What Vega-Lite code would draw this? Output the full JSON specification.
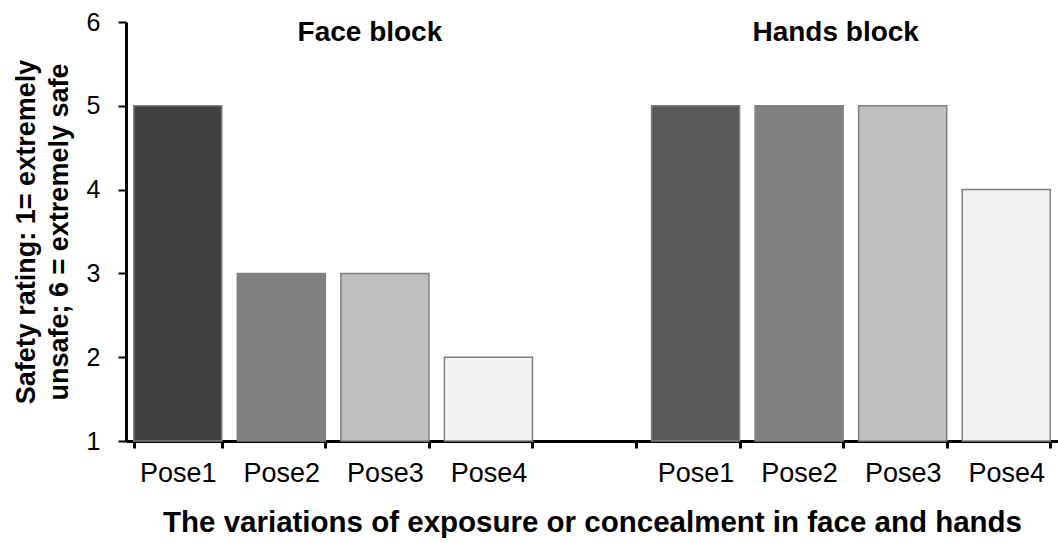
{
  "$schema": "https://vega.github.io/schema/vega-lite/v6.json",
  "width": 932,
  "height": 419,
  "autosize": {"type": "none"},
  "padding": {"left": 126, "top": 22, "right": 0, "bottom": 102},
  "config": {
    "font": "Liberation Sans",
    "view": {"stroke": null},
    "axis": {"domainColor": "#000", "tickColor": "#000", "labelColor": "#000", "titleColor": "#000", "grid": false}
  },
  "datasets": {
    "bars": [
      {"block": "Face", "pose": "Pose1", "slot": "F-Pose1", "rating": 5},
      {"block": "Face", "pose": "Pose2", "slot": "F-Pose2", "rating": 3},
      {"block": "Face", "pose": "Pose3", "slot": "F-Pose3", "rating": 3},
      {"block": "Face", "pose": "Pose4", "slot": "F-Pose4", "rating": 2},
      {"block": "Hands", "pose": "Pose1", "slot": "H-Pose1", "rating": 5},
      {"block": "Hands", "pose": "Pose2", "slot": "H-Pose2", "rating": 5},
      {"block": "Hands", "pose": "Pose3", "slot": "H-Pose3", "rating": 5},
      {"block": "Hands", "pose": "Pose4", "slot": "H-Pose4", "rating": 4}
    ]
  },
  "layer": [
    {
      "data": {"name": "bars"},
      "mark": {"type": "bar", "stroke": "#808080", "strokeWidth": 1.5},
      "encoding": {
        "x": {
          "field": "slot",
          "type": "nominal",
          "sort": null,
          "scale": {
            "domain": ["F-Pose1", "F-Pose2", "F-Pose3", "F-Pose4", "gap", "H-Pose1", "H-Pose2", "H-Pose3", "H-Pose4"],
            "paddingInner": 0.15,
            "paddingOuter": 0.075
          },
          "axis": {
            "labelExpr": "datum.label == 'gap' ? '' : slice(datum.label, 2)",
            "labelAngle": 0,
            "labelFontSize": 27,
            "labelPadding": 12,
            "tickBand": "extent",
            "tickSize": 7,
            "tickWidth": 3,
            "domainWidth": 3,
            "title": "The variations of exposure or concealment in face and hands",
            "titleFontSize": 29.5,
            "titleFontWeight": "bold",
            "titlePadding": 22
          }
        },
        "y": {
          "field": "rating",
          "type": "quantitative",
          "scale": {"domain": [1, 6], "zero": false, "nice": false},
          "axis": {
            "values": [1, 2, 3, 4, 5, 6],
            "format": "d",
            "labelFontSize": 25,
            "labelPadding": 18,
            "tickSize": 8,
            "tickWidth": 2,
            "domainWidth": 3,
            "title": ["Safety rating: 1= extremely", "unsafe; 6 = extremely safe"],
            "titleFontSize": 27,
            "titleFontWeight": "bold",
            "titleLineHeight": 33,
            "titlePadding": 13
          }
        },
        "y2": {"datum": 1},
        "color": {
          "field": "slot",
          "type": "nominal",
          "scale": {
            "domain": ["F-Pose1", "F-Pose2", "F-Pose3", "F-Pose4", "H-Pose1", "H-Pose2", "H-Pose3", "H-Pose4"],
            "range": ["#404040", "#808080", "#bfbfbf", "#f2f2f2", "#595959", "#808080", "#bfbfbf", "#f2f2f2"]
          },
          "legend": null
        }
      }
    },
    {
      "data": {"values": [{"label": "Face block"}]},
      "mark": {"type": "text", "fontSize": 28, "fontWeight": "bold", "baseline": "middle", "align": "center", "dx": -15},
      "encoding": {
        "x": {"datum": "F-Pose3"},
        "y": {"datum": 5.87},
        "text": {"field": "label"}
      }
    },
    {
      "data": {"values": [{"label": "Hands block"}]},
      "mark": {"type": "text", "fontSize": 28, "fontWeight": "bold", "baseline": "middle", "align": "center", "dx": -67},
      "encoding": {
        "x": {"datum": "H-Pose3"},
        "y": {"datum": 5.87},
        "text": {"field": "label"}
      }
    }
  ]
}
